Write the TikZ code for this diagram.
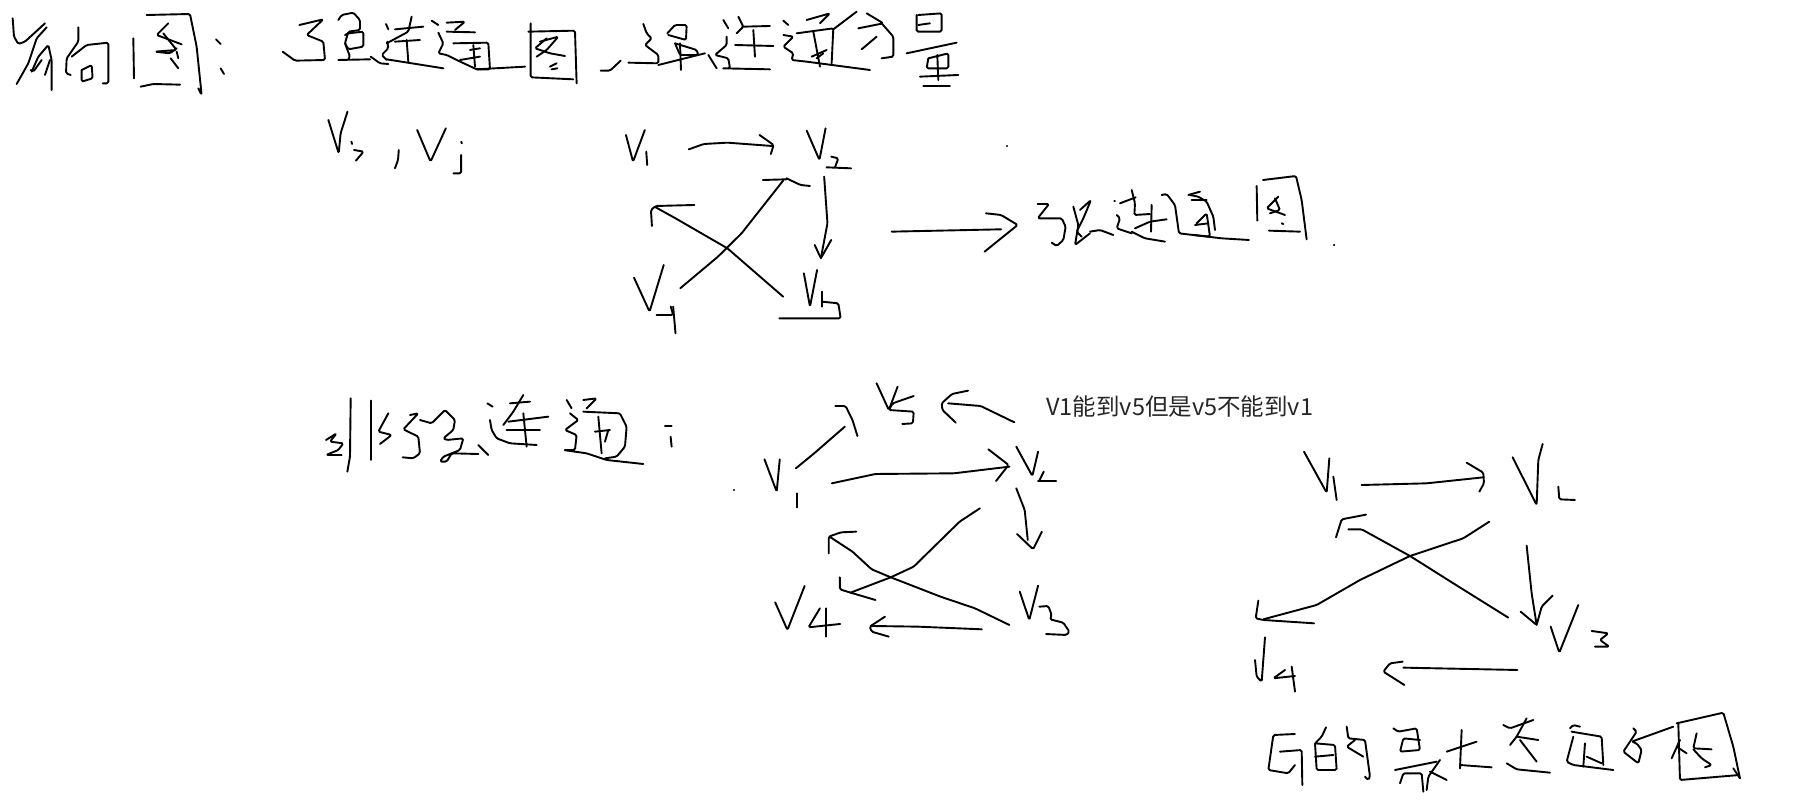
\documentclass[tikz,border=0pt]{standalone}
\usepackage{fontspec}
\newfontfamily\cjkfont{Noto Sans CJK SC}
\tikzset{
  ink/.style={black,line width=1.9pt,line cap=round,line join=round,rounded corners=1.5pt},
  crop/.style n args={3}{x=#3pt,y=-0.3333pt,shift={(#1pt,-#2pt)}},
  printed/.style={anchor=base west,inner sep=0pt,font=\cjkfont\fontsize{23.5}{28}\selectfont,text=black!85}
}
\newcommand{\inkline}[1]{\draw[ink] plot[sharp plot] coordinates {#1};}
\begin{document}
\begin{tikzpicture}[x=1pt,y=-1pt]
\useasboundingbox (0,0) rectangle (1819,802);
\fill[white] (0,0) rectangle (1819,802);
% title row, left word
\begin{scope}[crop={0}{0}{0.3333}]
\inkline{(38,55)(42,110)(55,132)(75,125)(135,70)}
\inkline{(140,82)(110,115)(85,190)(50,252)}
\inkline{(95,215)(115,170)(145,135)(155,180)(155,270)}
\inkline{(92,210)(100,215)(125,180)}
\inkline{(135,225)(150,180)}
\inkline{(235,82)(235,125)(200,175)(198,220)(212,225)}
\inkline{(215,170)(260,135)(325,128)(325,250)(308,250)}
\inkline{(245,210)(275,195)(278,235)(245,245)(245,210)}
\inkline{(400,115)(402,235)}
\inkline{(440,45)(570,42)(590,140)(605,285)(595,265)}
\inkline{(422,260)(460,252)(540,254)}
\inkline{(505,70)(470,105)(545,133)}
\inkline{(490,100)(530,150)(465,155)(510,160)(530,145)}
\inkline{(530,155)(535,175)}
\inkline{(512,175)(535,205)}
\inkline{(648,118)(662,132)}
\inkline{(662,205)(672,222)}
\end{scope}
% title row, strong word
\begin{scope}[crop={280}{0}{0.3333}]
\inkline{(58,75)(130,58)(80,105)(130,125)(135,180)(45,182)(8,155)}
\inkline{(175,60)(185,45)(220,38)(240,60)(240,90)(205,95)(195,130)(210,170)(205,178)}
\inkline{(195,105)(205,100)(250,95)(250,140)(205,148)(195,130)}
\inkline{(175,180)(270,178)}
\inkline{(318,72)(325,88)}
\inkline{(322,125)(325,145)(305,165)(320,180)}
\inkline{(345,88)(430,80)}
\inkline{(395,50)(385,95)(320,130)}
\inkline{(345,125)(420,120)}
\inkline{(380,120)(385,185)}
\inkline{(272,170)(300,190)(325,192)}
\inkline{(320,178)(490,205)}
\inkline{(455,62)(475,75)}
\inkline{(500,68)(555,65)(525,90)}
\inkline{(475,98)(490,130)(475,160)(500,165)(530,180)(590,208)(735,200)}
\inkline{(500,95)(585,97)}
\inkline{(520,130)(625,128)(630,208)(590,208)}
\inkline{(580,135)(585,200)}
\inkline{(540,180)(600,170)}
\inkline{(570,150)(600,145)}
\inkline{(745,95)(885,92)(890,250)}
\inkline{(752,70)(752,232)(880,238)}
\inkline{(800,115)(765,145)(810,160)(855,168)}
\inkline{(780,125)(835,110)(800,150)(770,170)}
\inkline{(810,200)(830,190)}
\inkline{(815,208)(832,205)}
\end{scope}
% vertex pair
\begin{scope}[crop={0}{0}{0.3827}]
\inkline{(858,360)(885,460)(890,400)(908,335)}
\inkline{(918,425)(920,432)}
\inkline{(925,450)(950,455)(930,482)}
\inkline{(1042,450)(1040,480)(1032,505)}
\inkline{(1090,390)(1125,485)(1165,385)}
\inkline{(1205,425)(1207,430)}
\inkline{(1205,465)(1205,520)(1185,520)}
\end{scope}
% title row, right part
\begin{scope}[crop={580}{0}{0.3333}]
\inkline{(62,212)(90,212)(122,182)}
\inkline{(190,72)(200,100)(215,115)(195,135)(235,165)(235,190)(145,188)}
\inkline{(262,100)(285,75)(320,75)(318,120)(265,105)}
\inkline{(285,130)(350,150)(355,165)(300,165)(285,130)}
\inkline{(300,130)(303,210)}
\inkline{(235,195)(375,160)}
\inkline{(385,165)(410,205)}
\inkline{(430,60)(445,85)}
\inkline{(440,110)(440,135)(405,165)(445,175)(450,205)(425,205)(570,208)}
\inkline{(475,50)(490,80)(470,100)}
\inkline{(490,80)(570,78)}
\inkline{(465,135)(580,138)}
\inkline{(520,90)(525,170)}
\inkline{(610,62)(625,75)}
\inkline{(610,105)(640,110)(610,140)(640,160)(635,180)(680,185)(870,210)}
\inkline{(680,60)(750,40)(720,70)}
\inkline{(650,100)(760,85)(755,190)}
\inkline{(700,95)(720,200)}
\inkline{(695,170)(740,150)}
\inkline{(710,175)(730,160)}
\inkline{(760,88)(830,35)}
\inkline{(860,40)(910,70)(835,85)}
\inkline{(905,70)(940,110)(940,170)(905,175)}
\inkline{(890,110)(845,148)}
\inkline{(1015,45)(1085,40)(1085,95)(1010,95)(1010,45)}
\inkline{(1015,75)(1050,70)}
\inkline{(980,160)(1130,128)}
\inkline{(1045,175)(1105,160)(1105,205)(1040,205)(1045,175)}
\inkline{(1072,165)(1075,240)}
\inkline{(1020,230)(1135,225)}
\inkline{(1030,258)(1110,258)}
\end{scope}
% first graph
\begin{scope}[crop={600}{110}{0.4719}]
\inkline{(55,75)(70,155)(95,60)}
\inkline{(98,125)(100,165)}
\inkline{(188,118)(220,102)(270,98)(365,108)}
\inkline{(338,75)(368,105)(362,132)}
\inkline{(438,62)(465,150)(478,55)}
\inkline{(490,140)(505,145)(498,172)}
\inkline{(480,172)(532,175)}
\inkline{(475,200)(482,340)(468,445)}
\inkline{(455,405)(468,445)(490,390)}
\inkline{(170,535)(250,440)(300,370)(388,212)}
\inkline{(345,210)(395,208)}
\inkline{(395,205)(425,225)(445,228)}
\inkline{(388,560)(270,415)(160,325)(118,292)}
\inkline{(200,285)(118,288)(108,300)(110,348)}
\inkline{(72,503)(105,605)(135,465)}
\inkline{(120,615)(155,615)(150,590)}
\inkline{(155,590)(160,670)}
\inkline{(432,490)(445,590)(460,480)}
\inkline{(470,575)(505,580)(510,625)(380,625)}
\inkline{(470,545)(470,590)}
\inkline{(618,365)(850,358)}
\inkline{(818,310)(850,315)(885,345)(815,425)}
\inkline{(862,107)(863,107)}
\inkline{(1555,405)(1556,405)}
\end{scope}
% first graph's caption
\begin{scope}[crop={1025}{190}{0.3333}]
\inkline{(38,42)(72,42)(38,85)(110,85)(122,110)(115,150)(95,168)(80,158)}
\inkline{(145,50)(160,105)(150,165)(195,130)}
\inkline{(165,60)(198,30)(175,85)(155,125)(170,140)}
\inkline{(195,125)(225,120)(265,135)}
\inkline{(268,32)(270,32)}
\inkline{(285,40)(332,22)}
\inkline{(320,0)(330,40)(328,75)(375,72)}
\inkline{(275,75)(285,85)(275,115)(320,130)}
\inkline{(380,45)(378,125)}
\inkline{(330,115)(375,95)(425,88)}
\inkline{(320,125)(360,145)(420,155)}
\inkline{(410,15)(425,12)(450,45)(462,130)(590,145)(672,150)}
\inkline{(490,15)(525,5)}
\inkline{(495,15)(520,20)(545,35)(565,80)(570,120)}
\inkline{(500,30)(545,30)}
\inkline{(510,105)(550,100)}
\inkline{(505,135)(555,140)(545,70)(515,100)}
\inkline{(695,-12)(697,92)}
\inkline{(714,-30)(813,-42)(830,30)(845,148)}
\inkline{(760,20)(725,55)(780,75)}
\inkline{(750,25)(765,60)(735,70)}
\inkline{(770,100)(775,102)}
\inkline{(732,122)(825,125)}
\end{scope}
% non-strong heading
\begin{scope}[crop={300}{370}{0.3333}]
\inkline{(78,210)(110,190)(90,215)(130,220)(115,240)(78,255)(125,255)}
\inkline{(152,85)(150,260)(142,305)}
\inkline{(212,92)(212,270)}
\inkline{(265,130)(235,185)(275,195)(240,222)}
\inkline{(330,135)(355,130)(310,178)(355,200)(360,250)(340,265)(308,262)}
\inkline{(360,150)(395,160)(435,120)(465,150)(460,180)(430,205)(440,210)(490,205)(480,240)(430,260)(420,275)(440,275)(455,250)(535,252)}
\inkline{(535,225)(565,255)}
\inkline{(562,100)(578,110)}
\inkline{(570,150)(575,180)(590,205)(630,220)(710,225)}
\inkline{(670,75)(640,125)(610,165)}
\inkline{(630,100)(690,95)}
\inkline{(625,155)(745,140)}
\inkline{(620,180)(720,180)}
\inkline{(670,130)(680,230)}
\inkline{(800,90)(815,115)}
\inkline{(850,90)(890,85)(860,115)}
\inkline{(810,130)(835,150)(795,180)(830,195)(825,240)(790,240)(860,250)(920,270)(1030,282)}
\inkline{(850,125)(960,130)(980,170)(975,230)(950,260)(915,265)}
\inkline{(895,140)(905,250)}
\inkline{(885,185)(930,180)}
\inkline{(925,180)(915,215)}
\inkline{(1095,168)(1115,168)}
\inkline{(1112,200)(1115,230)}
\end{scope}
% second graph
\begin{scope}[crop={730}{370}{0.3827}]
\inkline{(383,40)(415,120)(438,50)}
\inkline{(480,78)(425,100)(415,120)(480,125)(478,160)(450,162)}
\inkline{(172,295)(220,250)(300,170)}
\inkline{(275,108)(302,108)(320,150)(333,198)}
\inkline{(743,157)(655,108)(570,100)}
\inkline{(622,62)(580,72)(553,100)(555,120)(590,158)}
\inkline{(90,268)(122,365)(130,268)}
\inkline{(175,370)(175,412)}
\inkline{(266,340)(380,312)(585,310)(730,290)}
\inkline{(675,238)(728,285)(695,333)}
\inkline{(748,230)(790,318)(805,245)}
\inkline{(820,305)(808,332)}
\inkline{(805,332)(852,332)}
\inkline{(748,355)(770,420)(778,510)}
\inkline{(750,492)(792,538)(815,485)}
\inkline{(653,415)(600,455)(480,590)(420,622)(315,668)}
\inkline{(287,622)(287,658)(315,668)(380,690)}
\inkline{(730,765)(640,715)(550,680)(420,622)(370,598)(320,545)(260,500)}
\inkline{(330,485)(290,487)(258,500)(258,550)}
\inkline{(757,665)(782,750)(805,647)}
\inkline{(118,697)(150,780)(195,648)}
\inkline{(235,715)(205,772)(288,762)}
\inkline{(250,715)(250,800)}
\inkline{(658,778)(490,770)(368,768)}
\inkline{(405,740)(365,770)(370,785)(415,800)}
\inkline{(10,360)(11,360)}
\end{scope}
\begin{scope}[crop={1000}{600}{0.3333}]
\inkline{(118,20)(145,18)(155,45)(150,58)(190,68)(208,95)(200,105)(138,102)}
\end{scope}
\node[printed] (note) at (1046,415) {V1能到v5但是v5不能到v1};
% third graph
\begin{scope}[crop={1220}{430}{0.3333}]
\inkline{(252,65)(320,188)(328,85)}
\inkline{(340,140)(350,210)}
\inkline{(425,165)(620,160)(790,142)}
\inkline{(740,98)(790,128)(792,160)(778,185)}
\inkline{(878,82)(950,225)(955,90)(968,42)}
\inkline{(1015,170)(1018,208)(1065,210)}
\inkline{(920,347)(935,490)(950,585)}
\inkline{(902,545)(950,585)(965,530)(998,497)}
\inkline{(808,275)(730,325)(570,378)(420,450)(290,525)(130,568)}
\inkline{(115,512)(107,565)(130,570)(282,580)}
\inkline{(865,563)(700,460)(570,378)(425,298)(385,298)}
\inkline{(438,254)(365,268)(348,322)}
\inkline{(992,590)(1018,668)(1075,525)}
\inkline{(1115,603)(1165,610)(1140,630)(1168,650)(1125,650)}
\inkline{(105,690)(110,740)(125,755)(135,622)}
\inkline{(195,720)(160,745)(225,738)}
\inkline{(215,710)(225,785)}
\inkline{(892,720)(550,713)}
\inkline{(548,695)(510,700)(490,725)(553,765)}
\end{scope}
% bottom caption
\begin{scope}[crop={1240}{690}{0.3333}]
\inkline{(165,132)(100,135)(85,240)(145,250)(165,225)}
\inkline{(120,185)(185,180)(187,285)}
\inkline{(258,112)(245,140)(225,160)(230,240)(290,240)(285,165)(225,160)}
\inkline{(225,200)(280,195)}
\inkline{(320,110)(325,145)(375,150)(390,260)(385,270)(375,260)}
\inkline{(345,150)(320,170)(370,200)}
\inkline{(460,115)(475,125)(530,115)(540,180)(480,185)(490,145)(540,150)}
\inkline{(465,240)(590,215)}
\inkline{(480,280)(490,250)(545,250)(550,305)}
\inkline{(600,210)(565,260)(560,300)}
\inkline{(570,245)(620,270)}
\inkline{(620,185)(710,155)}
\inkline{(665,120)(660,235)}
\inkline{(660,225)(755,232)}
\inkline{(790,105)(810,115)(880,90)}
\inkline{(860,85)(830,140)(810,165)}
\inkline{(830,140)(895,150)}
\inkline{(840,150)(890,215)}
\inkline{(800,220)(830,238)(930,248)}
\inkline{(990,115)(1000,105)(1020,110)}
\inkline{(995,125)(1085,140)(1090,225)}
\inkline{(1000,140)(980,215)(1000,225)(1120,240)}
\inkline{(1035,160)(1030,230)}
\inkline{(1040,200)(1085,220)}
\inkline{(1180,115)(1190,125)(1150,185)(1195,220)(1205,180)(1190,160)(1175,155)(1300,110)}
\inkline{(1310,100)(1450,68)(1480,170)(1500,265)}
\inkline{(1480,235)(1500,265)}
\inkline{(1315,100)(1320,270)(1498,255)}
\inkline{(1320,150)(1295,205)}
\inkline{(1310,170)(1340,190)}
\inkline{(1370,130)(1360,175)(1415,178)}
\inkline{(1360,178)(1385,205)(1415,225)(1395,232)}
\end{scope}
\end{tikzpicture}
\end{document}
